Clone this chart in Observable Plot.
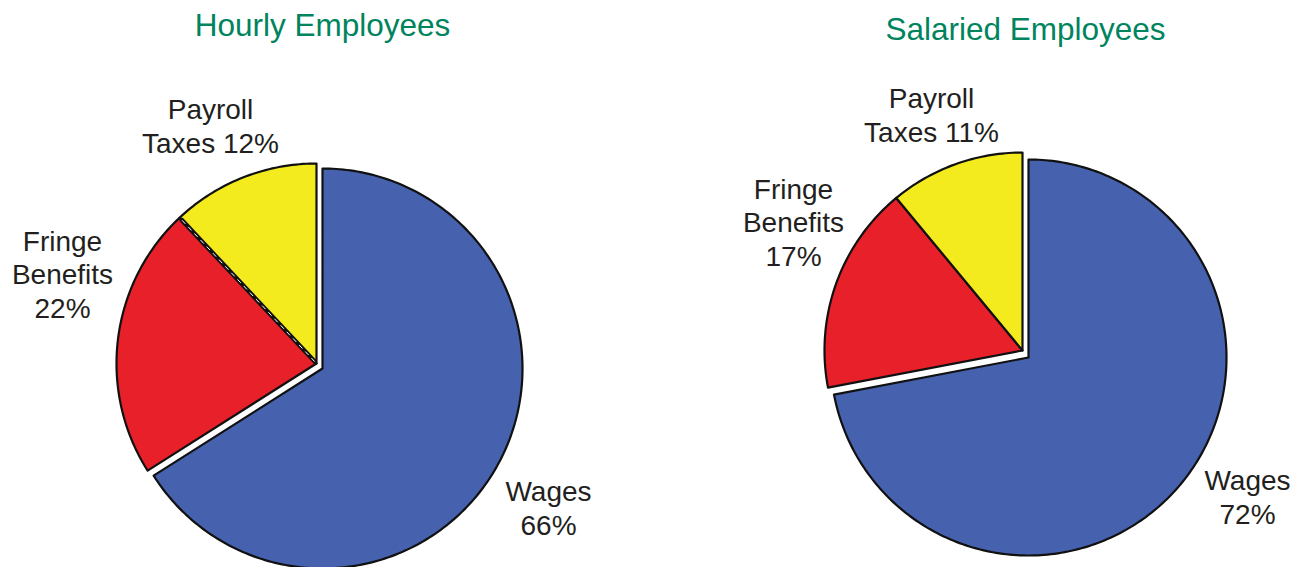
<!DOCTYPE html>
<html><head><meta charset="utf-8">
<script src="https://cdn.jsdelivr.net/npm/d3@7"></script>
<script src="https://cdn.jsdelivr.net/npm/@observablehq/plot@0.6"></script>
<style>body{margin:0;background:#fff}</style>
</head><body><div id="chart"></div>
<script>
// ---- data ----
const categories = ["Wages", "Fringe Benefits", "Payroll Taxes"];
const hourlyValues = [66, 22, 12];
const salariedValues = [72, 17, 11];
const chartTitles = ["Hourly Employees", "Salaried Employees"];
const hourlyLabels = ["Wages\n66%", "Fringe\nBenefits\n22%", "Payroll\nTaxes 12%"];
const salariedLabels = ["Wages\n72%", "Fringe\nBenefits\n17%", "Payroll\nTaxes 11%"];

// ---- layout / style ----
const colors = ["#4662AF", "#E8202A", "#F3EB1E"];
const layout = [
  {cx: 322, cy: 368, r: 200, explode: [-6, -5], title: [322, 25],
   labels: [[548, 507], [62, 273], [210, 125]], dashed: true},
  {cx: 1028, cy: 357, r: 198, explode: [-6, -7], title: [1025, 29],
   labels: [[1247, 496], [793, 221], [931, 114]], dashed: false}
];
const pies = [hourlyValues, salariedValues];
const pieLabels = [hourlyLabels, salariedLabels];

const rad = a => a * Math.PI / 180;
function pt(cx, cy, r, a) { return {x: cx + r * Math.sin(rad(a)), y: cy - r * Math.cos(rad(a))}; }

const slicePts = [];
const labelRows = [];
const titleRows = [];
const dashRows = [];
pies.forEach((vals, pi) => {
  const L = layout[pi];
  const total = d3.sum(vals);
  let a = 0;
  vals.forEach((v, i) => {
    const a0 = a, a1 = a + v / total * 360;
    a = a1;
    const ox = i === 0 ? 0 : L.explode[0], oy = i === 0 ? 0 : L.explode[1];
    const cx = L.cx + ox, cy = L.cy + oy;
    const key = pi + "-" + i;
    const n = Math.max(2, Math.ceil((a1 - a0) / 1));
    slicePts.push({key, cat: categories[i], ...pt(cx, cy, 0, 0)});
    for (let k = 0; k <= n; k++) slicePts.push({key, cat: categories[i], ...pt(cx, cy, L.r, a0 + (a1 - a0) * k / n)});
    slicePts.push({key, cat: categories[i], ...pt(cx, cy, 0, 0)});
    if (L.dashed && i === 2) {
      dashRows.push({key: "d" + pi, ...pt(cx, cy, 3, a0)});
      dashRows.push({key: "d" + pi, ...pt(cx, cy, L.r - 3, a0)});
    }
    labelRows.push({x: L.labels[i][0], y: L.labels[i][1], text: pieLabels[pi][i]});
  });
  titleRows.push({x: L.title[0], y: L.title[1], text: chartTitles[pi]});
});

const chart = Plot.plot({
  width: 1296, height: 567, margin: 0,
  style: {fontFamily: "'Liberation Sans', Arial, sans-serif", background: "#fff"},
  x: {domain: [0, 1296], range: [0, 1296], axis: null},
  y: {domain: [0, 567], range: [0, 567], axis: null},
  color: {domain: categories, range: colors},
  marks: [
    Plot.line(slicePts, {x: "x", y: "y", z: "key", fill: "cat", stroke: "#111", strokeWidth: 2.2, strokeLinejoin: "round", curve: "linear"}),
    Plot.line(dashRows, {x: "x", y: "y", z: "key", stroke: "#111", strokeWidth: 4.5}),
    Plot.line(dashRows, {x: "x", y: "y", z: "key", stroke: "#fff", strokeWidth: 1, strokeDasharray: "4,5"}),
    Plot.text(labelRows, {x: "x", y: "y", text: "text", fontSize: 28, lineHeight: 1.2, fill: "#231f20", textAnchor: "middle", lineAnchor: "middle"}),
    Plot.text(titleRows, {x: "x", y: "y", text: "text", fontSize: 31.5, fill: "#00845E", textAnchor: "middle", lineAnchor: "middle"})
  ]
});
document.getElementById("chart").appendChild(chart);
</script>
</body></html>
